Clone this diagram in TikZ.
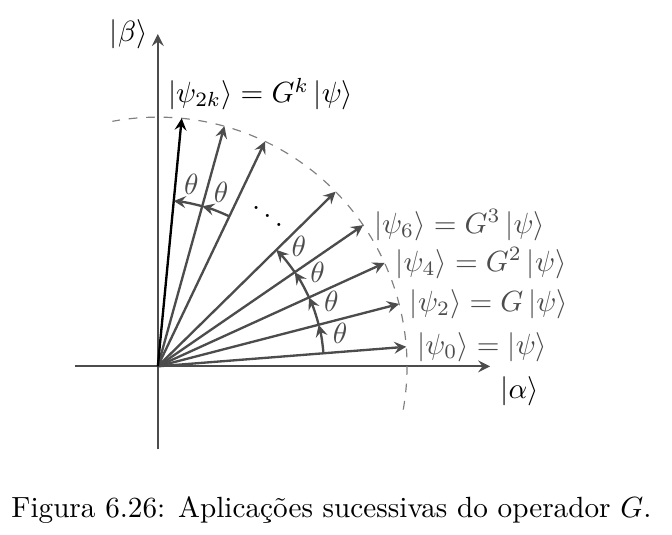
\documentclass[tikz,border=0pt]{standalone}
\usepackage{amsmath,amssymb}
\usepackage{fontspec}
\usepackage{tikz}

\newcommand{\ketv}[1]{\left|#1\right\rangle}

\begin{document}
\begin{tikzpicture}[>=stealth,
	vec/.style={->, thick, color=black!70},
	ang/.style={->, thick, color=black!70}]
		\useasboundingbox (-1.90,-2.02) rectangle (6.19,4.41);
		\coordinate (O) at (0,0);

		% eixos
		\draw [->, thick, color=black!70] (-1,0) -- (4,0) coordinate (xend);
		\draw [->, thick, color=black!70] (0,-1) -- (0,4) coordinate (yend);
		\node [below right] (alpha) at (xend) {$\ketv{\alpha}$};
		\node [left] (beta) at (yend) {$\ketv{\beta}$};

		% circulo
		\draw [dashed, color=black!50] (-10:3) arc [start angle=-10, end angle=100.5, radius=3];

		% vetores
		\coordinate (p0) at (4.5:3);
		\coordinate (p2) at (14.5:3);
		\coordinate (p4) at (24.5:3);
		\coordinate (p6) at (34.5:3);
		\coordinate (p8) at (44.5:3);
		\coordinate (q4) at (64.5:3);
		\coordinate (q2) at (74.5:3);
		\coordinate (pk) at (84.5:3);
		\draw [vec] (O) -- (p0) node[right] (l0) {$\ketv{\psi_0} = \ketv{\psi}$};
		\draw [vec] (O) -- (p2) node[right] (l2) {$\ketv{\psi_2} = G\ketv{\psi}$};
		\draw [vec] (O) -- (p4) node[right] (l4) {$\ketv{\psi_4} = G^2\ketv{\psi}$};
		\draw [vec] (O) -- (p6) node[right] (l6) {$\ketv{\psi_6} = G^3\ketv{\psi}$};
		\draw [vec] (O) -- (p8);
		\draw [vec] (O) -- (q4);
		\draw [vec] (O) -- (q2);
		\draw [->, thick, color=black] (O) -- (pk);
		\node [right] (lk) at (0,3.28) {$\ketv{\psi_{2k}} = G^k\ketv{\psi}$};

		% angulos
		\draw [ang] (4.5:2) arc [start angle=4.5, end angle=14.5, radius=2];
		\draw [ang] (14.5:2) arc [start angle=14.5, end angle=24.5, radius=2];
		\draw [ang] (24.5:2) arc [start angle=24.5, end angle=34.5, radius=2];
		\draw [ang] (34.5:2) arc [start angle=34.5, end angle=44.5, radius=2];
		\draw [ang] (64.5:2) arc [start angle=64.5, end angle=74.5, radius=2];
		\draw [ang] (74.5:2) arc [start angle=74.5, end angle=84.5, radius=2];
		\node [color=black!70] (t1) at (10.3:2.23) {$\theta$};
		\node [color=black!70] (t2) at (20.5:2.23) {$\theta$};
		\node [color=black!70] (t3) at (30.4:2.23) {$\theta$};
		\node [color=black!70] (t4) at (40.4:2.23) {$\theta$};
		\node [color=black!70] (t5) at (70:2.23) {$\theta$};
		\node [color=black!70] (t6) at (79.6:2.23) {$\theta$};
		\node (dots) at (1.32,1.91) {$\ddots$};

		\node [anchor=base] (cap) at (2.09,-1.82) {Figura 6.26: Aplicações sucessivas do operador $G$.};
	\end{tikzpicture}
\end{document}
